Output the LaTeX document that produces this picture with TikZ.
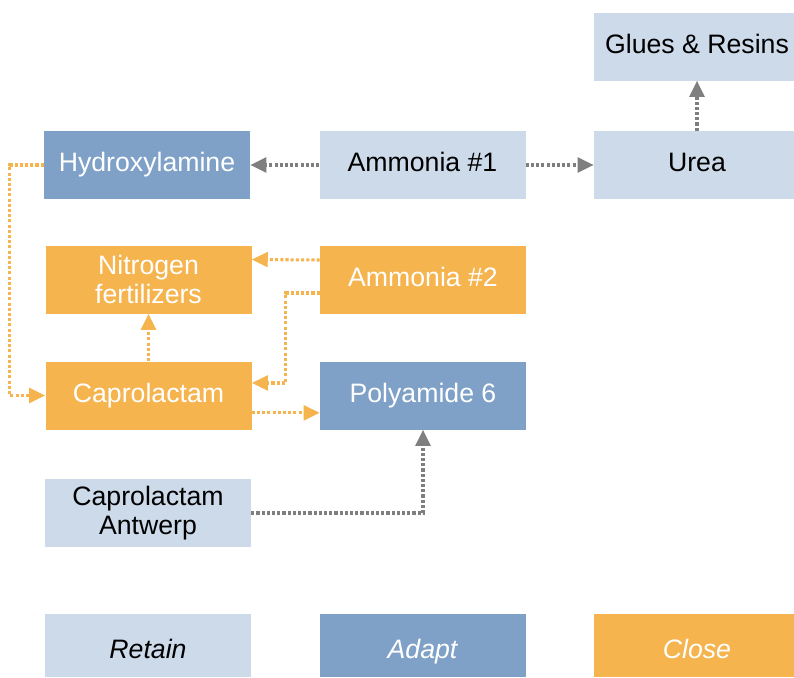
\documentclass[tikz,border=0pt]{standalone}
\usepackage{fontspec}
\setmainfont{Liberation Sans}
\usetikzlibrary{arrows.meta}
\definecolor{retainblue}{HTML}{CCDAEA}
\definecolor{adaptblue}{HTML}{7FA1C7}
\definecolor{closeorange}{HTML}{F5B44E}
\definecolor{linkgray}{HTML}{7F7F7F}
\begin{document}
\begin{tikzpicture}[x=0.75pt, y=-0.75pt,
        box/.style = {minimum width=154.5pt, minimum height=51pt, inner sep=0pt, align=center,
                      font=\fontsize{20}{21.5}\selectfont},
        oneline/.style = {text height=14.5pt, text depth=4.2pt},
        retain/.style = {box, fill=retainblue, text=black},
        adapt/.style = {box, fill=adaptblue, text=white},
        close/.style = {box, fill=closeorange, text=white},
        keybox/.style = {text height=20pt, text depth=0pt, minimum height=47.25pt,
                         font=\fontsize{20}{21.5}\selectfont\itshape},
        link/.style = {line width=2.3pt, dash pattern=on 2.3pt off 1.6pt,
                       -{Triangle[length=12pt, width=11pt]}},
        graylink/.style = {link, draw=linkgray},
        orangelink/.style = {link, draw=closeorange}]
    \useasboundingbox (0,0) rectangle (794,678);

    \node[retain, oneline] (glues) at (697,46.5) {Glues \& Resins};
    \node[retain, oneline] (urea) at (697,165) {Urea};
    \node[retain, oneline] (ammonia1) at (422.5,165) {Ammonia \#1};
    \node[adapt, oneline] (hydroxylamine) at (147,165) {Hydroxylamine};
    \node[close] (fertilizers) at (148.5,279.5) {Nitrogen\\fertilizers};
    \node[close, oneline] (ammonia2) at (423,280) {Ammonia \#2};
    \node[close, oneline] (caprolactam) at (148.5,395.5) {Caprolactam};
    \node[adapt, oneline] (polyamide) at (423,395.5) {Polyamide 6};
    \node[retain] (antwerp) at (148,513) {Caprolactam\\Antwerp};

    % legend
    \node[retain, keybox] (retainkey) at (148,645.5) {Retain};
    \node[adapt, keybox] (adaptkey) at (422.5,645.5) {Adapt};
    \node[close, keybox] (closekey) at (697,645.5) {Close};

    \draw[graylink] (ammonia1) -- (hydroxylamine);
    \draw[graylink] (ammonia1) -- (urea);
    \draw[graylink] (urea) -- (glues);
    \draw[graylink] (antwerp.east) -| (polyamide.south);

    \draw[orangelink] (hydroxylamine.west) -- ++(-34,0) |- (caprolactam.west);
    \draw[orangelink] ([yshift=15pt]ammonia2.west) -- ([yshift=15pt]fertilizers.east);
    \draw[orangelink] ([yshift=-9.75pt]ammonia2.west) -- ++(-34,0) |- ([yshift=9.4pt]caprolactam.east);
    \draw[orangelink] (caprolactam) -- (fertilizers);
    \draw[orangelink] ([yshift=-13pt]caprolactam.east) -- ([yshift=-13pt]polyamide.west);
\end{tikzpicture}
\end{document}
